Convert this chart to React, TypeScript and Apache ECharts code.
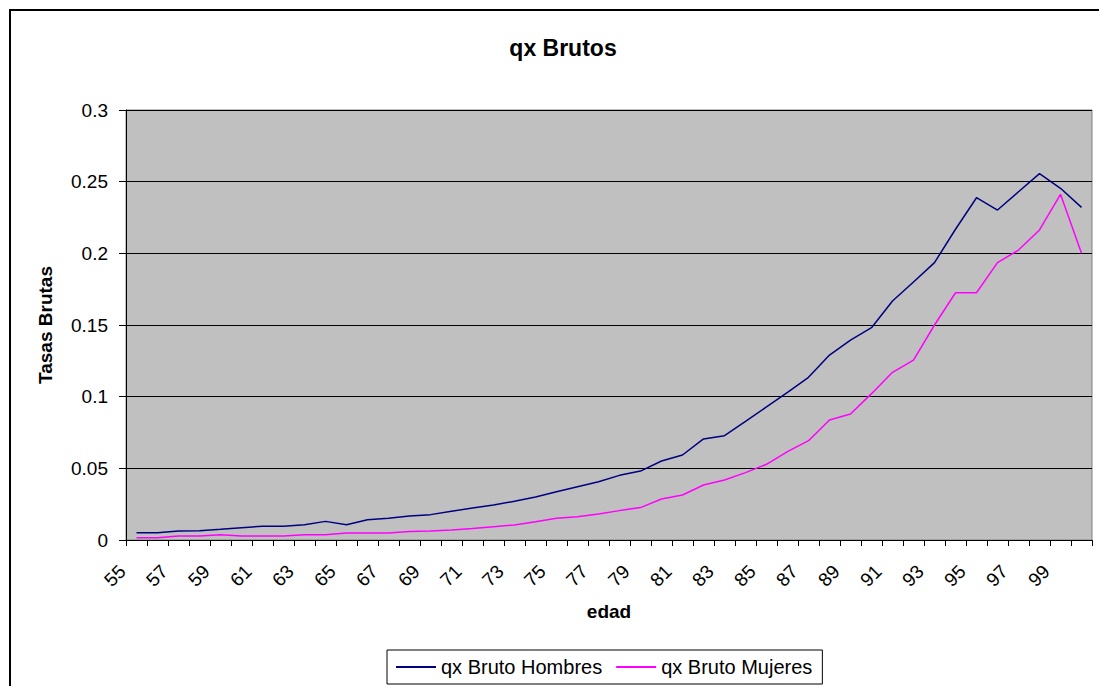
import React, { useEffect, useRef } from "react";
import * as echarts from "echarts";

const ages: string[] = [
  "55","56","57","58","59","60","61","62","63","64","65","66","67","68","69",
  "70","71","72","73","74","75","76","77","78","79","80","81","82","83","84",
  "85","86","87","88","89","90","91","92","93","94","95","96","97","98","99","100",
];

const hombres: number[] = [
  0.0051, 0.0051, 0.0063, 0.0065, 0.0075, 0.0086, 0.0096, 0.0096, 0.0107, 0.013,
  0.0107, 0.0142, 0.0151, 0.0167, 0.0177, 0.02, 0.0223, 0.0244, 0.027, 0.03,
  0.0337, 0.0372, 0.0407, 0.0451, 0.0481, 0.0551, 0.0593, 0.0705, 0.0728, 0.0827,
  0.0929, 0.103, 0.1135, 0.129, 0.1395, 0.1481, 0.1667, 0.18, 0.1935, 0.2168,
  0.2388, 0.2302, 0.243, 0.2556, 0.2454, 0.2321,
];

const mujeres: number[] = [
  0.0016, 0.0016, 0.0028, 0.0028, 0.0037, 0.0028, 0.0028, 0.0028, 0.0037, 0.0037,
  0.0049, 0.0049, 0.0049, 0.006, 0.0063, 0.007, 0.0081, 0.0093, 0.0105, 0.0128,
  0.0151, 0.0163, 0.0182, 0.0205, 0.0226, 0.0286, 0.0314, 0.0384, 0.0419, 0.047,
  0.0528, 0.0616, 0.0693, 0.0837, 0.0879, 0.1021, 0.117, 0.1255, 0.15, 0.1725,
  0.1725, 0.1935, 0.2023, 0.2163, 0.2412, 0.2,
];

const FONT = "'Liberation Sans', Arial, Helvetica, sans-serif";

export default function App() {
  const ref = useRef<HTMLDivElement>(null);
  useEffect(() => {
    if (!ref.current) return;
    const chart = echarts.init(ref.current, null, { renderer: "svg" });
    chart.setOption({
      animation: false,
      backgroundColor: "#ffffff",
      textStyle: { fontFamily: FONT },
      title: {
        text: "qx Brutos",
        left: 558,
        top: 31,
        textAlign: "center",
        textStyle: { fontSize: 23, fontWeight: "bold", color: "#000", fontFamily: FONT },
      },
      graphic: [
        {
          type: "rect",
          shape: { x: 10, y: 10, width: 1200, height: 1000 },
          style: { fill: "none", stroke: "#000", lineWidth: 2 },
          silent: true,
          z: 100,
        },
      ],
      legend: {
        left: 387,
        top: 650,
        padding: [7, 10, 7, 9],
        itemGap: 14,
        itemWidth: 40,
        itemHeight: 2,
        icon: "rect",
        borderColor: "#000",
        borderWidth: 1,
        textStyle: { fontSize: 20, color: "#000", fontFamily: FONT },
        data: ["qx Bruto Hombres", "qx Bruto Mujeres"],
      },
      grid: {
        left: 126,
        right: 7,
        top: 110,
        bottom: 146,
        show: true,
        backgroundColor: "#C0C0C0",
        borderColor: "#808080",
        borderWidth: 1,
        containLabel: false,
      },
      xAxis: {
        type: "category",
        data: ages,
        boundaryGap: true,
        name: "edad",
        nameLocation: "middle",
        nameGap: 62,
        nameTextStyle: { fontSize: 19, fontWeight: "bold", color: "#000", fontFamily: FONT },
        axisLine: { show: true, lineStyle: { color: "#000", width: 1 } },
        axisTick: { show: true, interval: 0, length: 6, alignWithLabel: false, lineStyle: { color: "#000" } },
        axisLabel: {
          interval: 1,
          rotate: 45,
          margin: 14,
          padding: [0, 20, 0, 0],
          fontSize: 19,
          color: "#000",
          fontFamily: FONT,
        },
        splitLine: { show: false },
      },
      yAxis: {
        type: "value",
        min: 0,
        max: 0.3,
        interval: 0.05,
        name: "Tasas Brutas",
        nameLocation: "middle",
        nameGap: 71,
        nameTextStyle: { fontSize: 19, fontWeight: "bold", color: "#000", fontFamily: FONT },
        axisLine: { show: true, lineStyle: { color: "#000", width: 1 } },
        axisTick: { show: true, length: 7, lineStyle: { color: "#000" } },
        axisLabel: { margin: 18, fontSize: 19, color: "#000", fontFamily: FONT },
        splitLine: { show: true, lineStyle: { color: "#000", width: 1 } },
      },
      series: [
        {
          name: "qx Bruto Hombres",
          type: "line",
          data: hombres,
          symbol: "none",
          lineStyle: { color: "#000080", width: 1.5 },
          itemStyle: { color: "#000080" },
        },
        {
          name: "qx Bruto Mujeres",
          type: "line",
          data: mujeres,
          symbol: "none",
          lineStyle: { color: "#FF00FF", width: 1.5 },
          itemStyle: { color: "#FF00FF" },
        },
      ],
    });
    return () => chart.dispose();
  }, []);
  return (
    <div
      ref={ref}
      style={{ position: "fixed", left: 0, top: 0, width: 1099, height: 686, background: "#fff" }}
    />
  );
}
